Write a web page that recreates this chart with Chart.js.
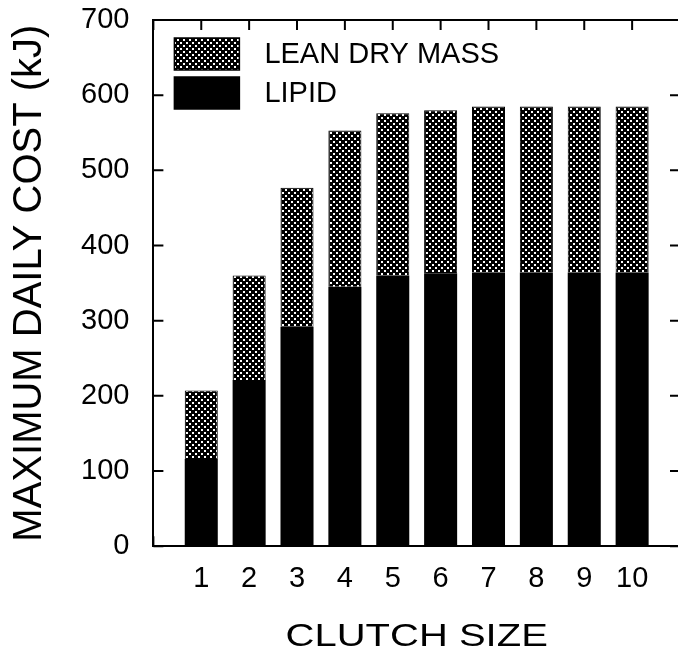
<!DOCTYPE html>
<html>
<head>
<meta charset="utf-8">
<script src="https://cdn.jsdelivr.net/npm/chart.js@4.4.1/dist/chart.umd.min.js"></script>
<style>
    html, body { margin: 0; padding: 0; background: #fff; overflow: hidden; }
    #contenedor-principal { width: 690px; height: 655px; }
</style>
</head>
<body>
<div id="contenedor-principal"><canvas id="myChart"></canvas></div>
<script>
// datos
const tallasPuesta = [1, 2, 3, 4, 5, 6, 7, 8, 9, 10];
const lipido = [116, 221, 292, 345, 360, 363, 364, 364, 364, 364];
const masaSecaMagra = [91, 139, 185, 208, 216, 217, 221, 221, 221, 221];
const ticksY = [0, 100, 200, 300, 400, 500, 600, 700];
const tituloX = 'CLUTCH SIZE';

const fuente = '"Liberation Sans", Arial, Helvetica, sans-serif';

// trama de puntos blancos sobre negro
function crearTrama() {
    const c = document.createElement('canvas');
    c.width = 6;
    c.height = 6;
    const g = c.getContext('2d');
    g.fillStyle = '#000';
    g.fillRect(0, 0, 6, 6);
    g.fillStyle = '#fff';
    g.fillRect(0, 0, 2, 2);
    g.fillRect(3, 3, 2, 2);
    return g.createPattern(c, 'repeat');
}
const trama = crearTrama();

// leyenda dentro del area de la grafica
const leyendaInterna = {
    id: 'leyendaInterna',
    afterDraw(chart) {
        const ctx = chart.ctx;
        const area = chart.chartArea;
        ctx.save();
        ctx.font = '29px ' + fuente;
        ctx.textBaseline = 'middle';
        [1, 0].forEach((i, fila) => {
            const ds = chart.data.datasets[i];
            const x = area.left + 21;
            const y = area.top + 18 + fila * 39;
            ctx.fillStyle = ds.backgroundColor;
            ctx.fillRect(x, y, 65, 32);
            ctx.strokeStyle = '#000';
            ctx.lineWidth = 1.5;
            ctx.strokeRect(x, y, 65, 32);
            ctx.fillStyle = '#000';
            ctx.fillText(ds.label, x + 90, y + 17);
        });
        ctx.restore();
    }
};

// titulo del eje x, ensanchado como en el original
const tituloEjeX = {
    id: 'tituloEjeX',
    afterDraw(chart) {
        const ctx = chart.ctx;
        const area = chart.chartArea;
        ctx.save();
        ctx.translate((area.left + area.right) / 2, area.bottom + 100);
        ctx.scale(1.25, 1);
        ctx.font = '32px ' + fuente;
        ctx.textAlign = 'center';
        ctx.textBaseline = 'alphabetic';
        ctx.fillStyle = '#000';
        ctx.fillText(tituloX, 0, 0);
        ctx.restore();
    }
};

// marcas de los ejes hacia adentro, en los cuatro lados
const marcasInternas = {
    id: 'marcasInternas',
    beforeDatasetsDraw(chart) {
        const { ctx, chartArea: a, scales } = chart;
        ctx.save();
        ctx.strokeStyle = '#000';
        ctx.lineWidth = 2;
        ctx.beginPath();
        scales.y.ticks.forEach(t => {
            const py = scales.y.getPixelForValue(t.value);
            ctx.moveTo(a.left, py);
            ctx.lineTo(a.left + 10, py);
            ctx.moveTo(a.right, py);
            ctx.lineTo(a.right - 10, py);
        });
        scales.x.ticks.forEach(t => {
            const px = scales.x.getPixelForValue(t.value);
            ctx.moveTo(px, a.top);
            ctx.lineTo(px, a.top + 10);
            ctx.moveTo(px, a.bottom);
            ctx.lineTo(px, a.bottom - 10);
        });
        ctx.stroke();
        ctx.restore();
    }
};

// las marcas propias del eje quedan invisibles, solo dan separacion a las etiquetas
const ejeSeparado = (largo) => ({
    drawOnChartArea: false,
    drawTicks: true,
    tickLength: largo,
    tickColor: 'rgba(0,0,0,0)',
    offset: false
});
const ejeSinMarcas = {
    drawOnChartArea: false,
    drawTicks: false,
    offset: false
};
const borde = { color: '#000', width: 2 };

const ctx = document.getElementById('myChart').getContext('2d');
new Chart(ctx, {
    type: 'bar',
    data: {
        datasets: [
            {
                label: 'LIPID',
                data: tallasPuesta.map((t, i) => ({ x: t, y: lipido[i] })),
                backgroundColor: '#000',
                borderWidth: 0
            },
            {
                label: 'LEAN DRY MASS',
                data: tallasPuesta.map((t, i) => ({ x: t, y: masaSecaMagra[i] })),
                backgroundColor: trama,
                borderColor: '#000',
                borderWidth: 1
            }
        ]
    },
    options: {
        responsive: true,
        maintainAspectRatio: false,
        animation: false,
        categoryPercentage: 0.69,
        barPercentage: 1,
        layout: { padding: { top: 20, right: 10, left: 0, bottom: 57 } },
        plugins: {
            legend: { display: false },
            tooltip: { enabled: false }
        },
        scales: {
            x: {
                type: 'linear',
                stacked: true,
                min: 0,
                max: 11,
                offset: false,
                grid: ejeSeparado(13),
                border: borde,
                ticks: {
                    stepSize: 1,
                    autoSkip: false,
                    maxRotation: 0,
                    padding: 2,
                    color: '#000',
                    font: { family: fuente, size: 29 },
                    callback: v => tallasPuesta.includes(v) ? String(v) : ''
                }
            },
            x2: {
                type: 'linear',
                position: 'top',
                min: 0,
                max: 11,
                offset: false,
                grid: ejeSinMarcas,
                border: borde,
                ticks: { display: false, stepSize: 1 }
            },
            y: {
                stacked: true,
                min: 0,
                max: 700,
                grid: ejeSeparado(22),
                border: borde,
                afterBuildTicks: eje => { eje.ticks = ticksY.map(v => ({ value: v })); },
                ticks: {
                    padding: 2,
                    color: '#000',
                    font: { family: fuente, size: 29 }
                },
                title: {
                    display: true,
                    text: 'MAXIMUM DAILY COST (kJ)',
                    color: '#000',
                    font: { family: fuente, size: 40 },
                    padding: { top: 6, bottom: 25 }
                }
            },
            y2: {
                position: 'right',
                min: 0,
                max: 700,
                grid: ejeSinMarcas,
                border: borde,
                ticks: { display: false }
            }
        }
    },
    plugins: [leyendaInterna, marcasInternas, tituloEjeX]
});
</script>
</body>
</html>
